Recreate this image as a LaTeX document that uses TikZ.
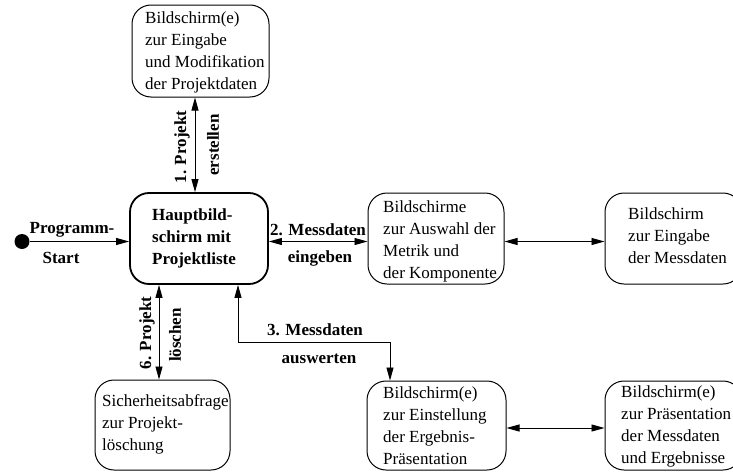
\documentclass[tikz,border=0pt]{standalone}
\usepackage{fontspec}
\setmainfont{Liberation Serif}
\usetikzlibrary{arrows.meta}
\begin{document}
\begin{tikzpicture}[x=1pt,y=-1pt,
  screen/.style={draw, line width=1pt, rounded corners=19pt, inner sep=0pt},
  mainscreen/.style={screen, line width=1.8pt},
  txt/.style={anchor=west, align=left, inner sep=0pt, font=\fontsize{17}{22}\selectfont},
  btxt/.style={txt, font=\fontsize{17}{22}\selectfont\bfseries},
  lbl/.style={inner sep=0pt, font=\fontsize{17}{22}\selectfont\bfseries},
  conn/.style={line width=0.9pt, {Triangle[length=13pt,width=7pt]}-{Triangle[length=13pt,width=7pt]}},
  oneway/.style={line width=0.9pt, -{Triangle[length=13pt,width=7pt]}}]
\useasboundingbox (0,0) rectangle (733,471);
\fill[white] (0,0) rectangle (733,471);
\clip (0,0) rectangle (733,471);

% screens
\node[screen, minimum width=137pt, minimum height=92pt] (proj) at (200.5,51) {};
\node[mainscreen, minimum width=138pt, minimum height=91pt] (main) at (199,238.5) {};
\node[screen, minimum width=136pt, minimum height=91pt] (metrik) at (436,238.5) {};
\node[screen, minimum width=137pt, minimum height=91pt] (mess) at (673.5,238.5) {};
\node[screen, minimum width=135pt, minimum height=90pt] (sicher) at (162.5,425) {};
\node[screen, minimum width=139pt, minimum height=89pt] (einst) at (436.5,425.5) {};
\node[screen, minimum width=137pt, minimum height=89pt] (praes) at (673.5,425.5) {};

% screen contents
\node[txt] (projtxt) at (145,52.5) {Bildschirm(e)\\zur Eingabe\\und Modifikation\\der Projektdaten};
\node[btxt] (maintxt) at (152,238) {Hauptbild-\\schirm mit\\Projektliste};
\node[txt] (metriktxt) at (383,241) {Bildschirme\\zur Auswahl der\\Metrik und\\der Komponente};
\node[txt] (messtxt) at (628,235.5) {Bildschirm\\zur Eingabe\\der Messdaten};
\node[txt] (sichertxt) at (102,424.5) {Sicherheitsabfrage\\zur Projekt-\\löschung};
\node[txt] (einsttxt) at (383,426) {Bildschirm(e)\\zur Einstellung\\der Ergebnis-\\Präsentation};
\node[txt] (praestxt) at (621,426) {Bildschirm(e)\\zur Präsentation\\der Messdaten\\und Ergebnisse};

% start point
\node[circle, fill=black, inner sep=0pt, minimum size=15pt] (start) at (22,241.5) {};

% helper points for the connectors
\coordinate (c1) at (195,0);
\coordinate (c6) at (159,0);
\coordinate (c3) at (238,342);
\coordinate (c3b) at (390,342);
\coordinate (yb) at (0,428);

% connectors
\draw[oneway] (start) -- (start -| main.west);
\draw[conn] (start -| main.east) -- (start -| metrik.west);
\draw[conn] (start -| metrik.east) -- (start -| mess.west);
\draw[conn] (c1 |- proj.south) -- (c1 |- main.north);
\draw[conn] (c6 |- main.south) -- (c6 |- sicher.north);
\draw[conn] (c3 |- main.south) -- (c3) -- (c3b) -- (c3b |- einst.north);
\draw[conn] (yb -| einst.east) -- (yb -| praes.west);

% connector labels
\node[lbl] (l0a) at (72,230) {Programm-};
\node[lbl] (l0b) at (61,258) {Start};
\node[lbl] (l2a) at (318,230) {2. Messdaten};
\node[lbl] (l2b) at (320,258) {eingeben};
\node[lbl, rotate=90] (l1a) at (182,147) {1. Projekt};
\node[lbl, rotate=90] (l1b) at (213,145) {erstellen};
\node[lbl, rotate=90] (l6a) at (147,333) {6. Projekt};
\node[lbl, rotate=90] (l6b) at (175,335) {löschen};
\node[lbl] (l3a) at (315,330) {3. Messdaten};
\node[lbl] (l3b) at (319,359) {auswerten};
\end{tikzpicture}
\end{document}
